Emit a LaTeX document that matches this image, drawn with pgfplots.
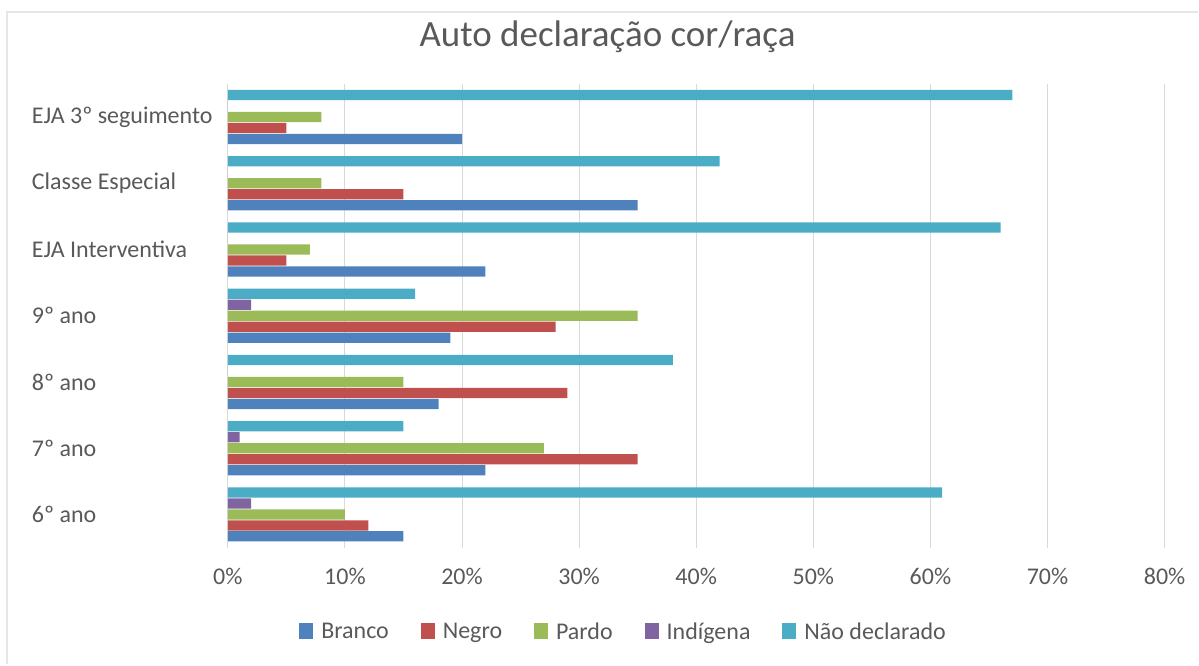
\documentclass[border=0pt]{standalone}
\usepackage{pgfplots}
\pgfplotsset{compat=1.18}
\usepackage{fontspec}
\setmainfont{Carlito}
\definecolor{txt}{HTML}{595959}
\definecolor{gridc}{HTML}{D9D9D9}
\definecolor{frm}{HTML}{E6E6E6}
\definecolor{cBranco}{HTML}{4F81BD}
\definecolor{cNegro}{HTML}{C0504D}
\definecolor{cPardo}{HTML}{9BBB59}
\definecolor{cInd}{HTML}{8064A2}
\definecolor{cND}{HTML}{4BACC6}
\begin{document}
\begin{tikzpicture}[x=1pt,y=1pt]
\path (0,0) rectangle (1199,665);
\draw[frm, line width=2pt] (7,0) -- (7,653) -- (1199,653);
\node[anchor=base, text=txt, font=\fontsize{37}{44}\selectfont, inner sep=0pt] at (608,618) {Auto declaração cor/raça};
\begin{axis}[
  at={(228pt,117pt)}, anchor=south west,
  scale only axis, width=937.6pt, height=464pt,
  xbar, xmin=0, xmax=80, ymin=-0.5, ymax=6.5,
  bar width=0.155,
  axis line style={draw=none},
  tick style={draw=none},
  xmajorgrids, major grid style={gridc, line width=1pt},
  xtick={0,10,...,80},
  xticklabels={0\%,10\%,20\%,30\%,40\%,50\%,60\%,70\%,80\%},
  xticklabel style={anchor=center, yshift=-29pt, text=txt, font=\fontsize{24}{28}\selectfont},
  ytick={0,...,6},
  yticklabels={6º ano,7º ano,8º ano,9º ano,EJA Interventiva,Classe Especial,EJA 3º seguimento},
  yticklabel style={anchor=west, xshift=-192pt, inner sep=0pt, text=txt, font=\fontsize{24}{28}\selectfont},
  legend style={at={(0.4224,-0.181)}, anchor=center, draw=none, fill=none,
    font=\fontsize{24}{28}\selectfont, text=txt,
    /tikz/every even column/.append style={column sep=30pt}},
  legend columns=-1,
  legend image code/.code={\fill[#1] (0pt,-8pt) rectangle (14pt,8pt); \path (20pt,0pt);},
]
\addplot[fill=cBranco, draw=none, bar shift=-0.3313] coordinates {(15,0) (22,1) (18,2) (19,3) (22,4) (35,5) (20,6)};
\addplot[fill=cNegro, draw=none, bar shift=-0.1657] coordinates {(12,0) (35,1) (29,2) (28,3) (5,4) (15,5) (5,6)};
\addplot[fill=cPardo, draw=none, bar shift=0] coordinates {(10,0) (27,1) (15,2) (35,3) (7,4) (8,5) (8,6)};
\addplot[fill=cInd, draw=none, bar shift=0.1657] coordinates {(2,0) (1,1) (0,2) (2,3) (0,4) (0,5) (0,6)};
\addplot[fill=cND, draw=none, bar shift=0.3313] coordinates {(61,0) (15,1) (38,2) (16,3) (66,4) (42,5) (67,6)};
\legend{Branco,Negro,Pardo,Indígena,Não declarado}
\end{axis}
\end{tikzpicture}
\end{document}
